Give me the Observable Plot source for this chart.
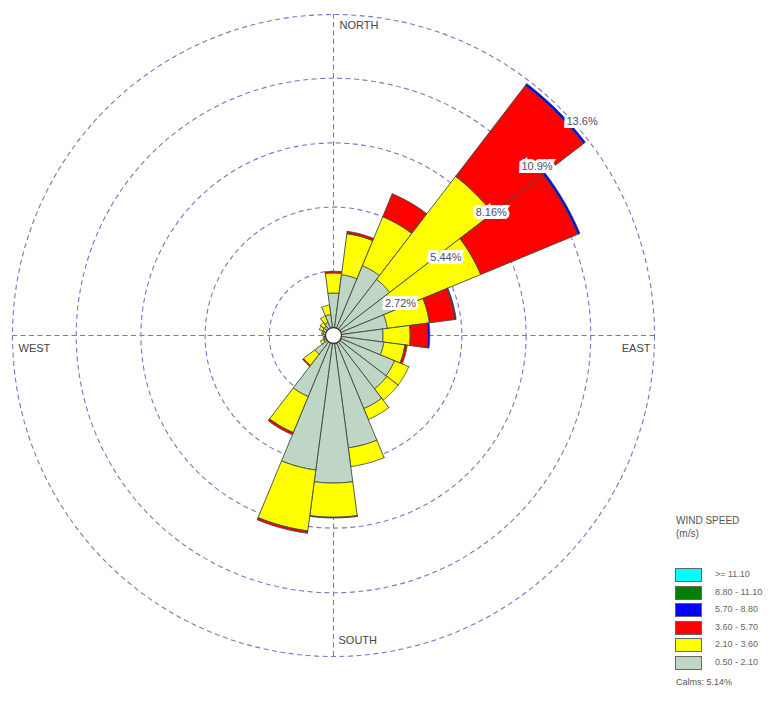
<!DOCTYPE html>
<html>
<head>
<meta charset="utf-8">
<script src="https://cdn.jsdelivr.net/npm/d3@7"></script>
<script src="https://cdn.jsdelivr.net/npm/@observablehq/plot@0.6"></script>
<style>
  body { margin: 0; background: #fff; font-family: "Liberation Sans", Arial, sans-serif; }
  #wrap { position: relative; width: 781px; height: 710px; overflow: hidden; }
  #legend { position: absolute; left: 676px; top: 514px; color: #555; }
  #legend .title { font-size: 10px; line-height: 13px; color: #555; }
  #legend .row { position: absolute; left: 0; height: 14px; white-space: nowrap; }
  #legend .sw { position: absolute; left: -1px; top: 0; width: 25px; height: 12px; border: 1px solid #666; }
  #legend .lab { position: absolute; left: 39px; top: 1px; font-size: 9px; color: #666; }
  #legend .calm { position: absolute; left: 0; font-size: 9px; color: #555; white-space: nowrap; }
</style>
</head>
<body>
<div id="wrap"><div id="chart"></div><div id="legend"></div></div>
<script>
// Wind directions (degrees clockwise from north), 24 sectors of 15°
const directions = [0, 15, 30, 45, 60, 75, 90, 105, 120, 135, 150, 165,
                    180, 195, 210, 225, 240, 255, 270, 285, 300, 315, 330, 345];

// Speed classes (m/s), low to high
const speedClasses = ["0.50 - 2.10", "2.10 - 3.60", "3.60 - 5.70", "5.70 - 8.80", "8.80 - 11.10", ">= 11.10"];
const classColors  = ["#c0d6c4", "#ffff00", "#ff0000", "#0000ff", "#008000", "#00ffff"];

// Frequency (%) of each speed class per direction
const freq050_210 = [1.80, 2.60, 3.20, 3.00, 2.80, 2.30, 2.10, 2.15, 2.80, 2.85, 3.35, 4.80,
                     6.25, 5.75, 2.80, 1.00, 0.45, 0.40, 0.40, 0.45, 0.50, 0.50, 0.60, 0.90];
const freq210_360 = [0.85, 1.75, 2.25, 5.50, 3.95, 1.80, 1.15, 0.90, 0.65, 0.60, 0.50, 0.80,
                     1.45, 2.60, 1.65, 0.60, 0.15, 0.05, 0.00, 0.05, 0.15, 0.20, 0.30, 0.40];
const freq360_570 = [0.07, 0.10, 1.05, 4.85, 4.45, 1.10, 0.75, 0.10, 0.00, 0.00, 0.00, 0.00,
                     0.03, 0.10, 0.10, 0.05, 0.00, 0.00, 0.00, 0.00, 0.00, 0.00, 0.00, 0.00];
const freq570_880 = [0.00, 0.00, 0.00, 0.10, 0.10, 0.04, 0.08, 0.00, 0.00, 0.00, 0.00, 0.00,
                     0.00, 0.00, 0.00, 0.00, 0.00, 0.00, 0.00, 0.00, 0.00, 0.00, 0.00, 0.00];
const freq880_1110 = directions.map(() => 0);
const freq1110up   = directions.map(() => 0);
const classSeries = [freq050_210, freq210_360, freq360_570, freq570_880, freq880_1110, freq1110up];

const calmsLabel = "Calms: 5.14%";

// Ring (grid) values and their labels
const ringValues = [2.72, 5.44, 8.16, 10.9, 13.6];
const ringLabels = ["2.72%", "5.44%", "8.16%", "10.9%", "13.6%"];
const compassLabels = ["NORTH", "EAST", "SOUTH", "WEST"];
const legendTitle = ["WIND SPEED", "(m/s)"];

// ---- build the wedge polygons from the data ----
const R = d3.max(ringValues);
const hole = 0.34;          // calm circle radius (in %) at the centre
const halfWidth = 7.5;      // half of the 15° sector
const rad = Math.PI / 180;
const segments = [];
directions.forEach((dir, i) => {
  let base = 0;
  classSeries.forEach((series, k) => {
    const v = series[i];
    if (v > 0) segments.push({dir, cls: speedClasses[k], lo: base, hi: base + v});
    base += v;
  });
});
const polyPts = [];
segments.forEach((s, j) => {
  const lo = Math.max(s.lo, hole);
  if (s.hi <= lo) return;
  const ring = [];
  for (let a = -halfWidth; a <= halfWidth + 1e-9; a += 0.5) ring.push([s.hi, s.dir + a]);
  for (let a = halfWidth; a >= -halfWidth - 1e-9; a -= 0.5) ring.push([lo, s.dir + a]);
  ring.push(ring[0]);
  ring.forEach(([r, ang]) => polyPts.push({id: j, cls: s.cls, x: r * Math.sin(ang * rad), y: r * Math.cos(ang * rad)}));
});

const labelAngle = 45 * rad;
const ringLabelData = ringValues.map((v, i) => ({x: v * Math.sin(labelAngle), y: v * Math.cos(labelAngle), t: ringLabels[i]}));

const gridColor = "#7378c4";
const dash = "5,3.5";

const chart = Plot.plot({
  width: 781,
  height: 710,
  style: {fontFamily: "Liberation Sans, Arial, sans-serif", background: "transparent", overflow: "visible"},
  x: {domain: [-R, R], range: [12, 654], axis: null},
  y: {domain: [-R, R], range: [656, 14], axis: null},
  r: {type: "linear", domain: [0, R], range: [0, 321]},
  color: {domain: speedClasses, range: classColors},
  marks: [
    Plot.dot(ringValues, {x: () => 0, y: () => 0, r: d => d, fill: "none", stroke: gridColor, strokeWidth: 1.1, strokeDasharray: dash}),
    Plot.ruleY([0], {x1: -R, x2: R, stroke: gridColor, strokeWidth: 1.1, strokeDasharray: dash}),
    Plot.ruleX([0], {y1: -R, y2: R, stroke: gridColor, strokeWidth: 1.1, strokeDasharray: dash}),
    Plot.line(polyPts, {x: "x", y: "y", z: "id", fill: "cls", stroke: "#3e4a42", strokeWidth: 0.9, curve: "linear"}),
    Plot.dot([0], {x: () => 0, y: () => 0, r: 8, fill: "white", stroke: "#2f3a33", strokeWidth: 1.3}),
    Plot.text(ringLabelData, {x: "x", y: "y", text: "t", textAnchor: "start", dx: 6, dy: 13, fontSize: 11,
      fill: "#4a4e6e", stroke: "white", strokeWidth: 6, strokeLinejoin: "miter"}),
    Plot.text([compassLabels[0]], {x: () => 0, y: () => R, text: d => d, textAnchor: "start", dx: 6, dy: 11, fontSize: 11, fill: "#444"}),
    Plot.text([compassLabels[1]], {x: () => R, y: () => 0, text: d => d, textAnchor: "end", dx: -4, dy: 13, fontSize: 11, fill: "#444"}),
    Plot.text([compassLabels[2]], {x: () => 0, y: () => -R, text: d => d, textAnchor: "start", dx: 5, dy: -16, fontSize: 11, fill: "#444"}),
    Plot.text([compassLabels[3]], {x: () => -R, y: () => 0, text: d => d, textAnchor: "start", dx: 6, dy: 13, fontSize: 11, fill: "#444"})
  ]
});
document.getElementById("chart").appendChild(chart);

// ---- legend (HTML, to the lower right) ----
const legend = document.getElementById("legend");
legend.innerHTML = `<div class="title">${legendTitle[0]}<br>${legendTitle[1]}</div>`;
const order = speedClasses.map((c, i) => i).reverse();
order.forEach((k, j) => {
  const row = document.createElement("div");
  row.className = "row";
  row.style.top = (54 + j * 17.6) + "px";
  row.innerHTML = `<div class="sw" style="background:${classColors[k]}"></div><div class="lab">${speedClasses[k]}</div>`;
  legend.appendChild(row);
});
const calm = document.createElement("div");
calm.className = "calm";
calm.style.top = "163px";
calm.textContent = calmsLabel;
legend.appendChild(calm);
</script>
</body>
</html>
